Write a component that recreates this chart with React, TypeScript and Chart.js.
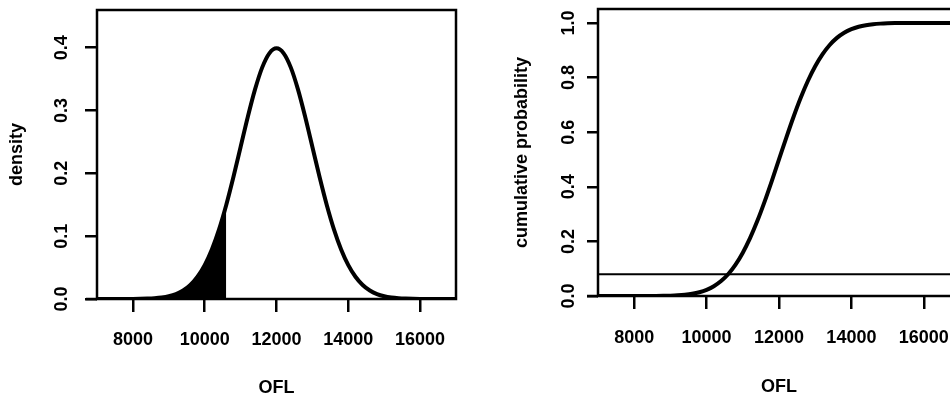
import React, { useEffect, useRef } from "react";
import { Chart, registerables } from "chart.js";

Chart.register(...registerables);

// ---- data ----
const ofl = [
  7000, 7200, 7400, 7600, 7800, 8000, 8200, 8400, 8600, 8800,
  9000, 9200, 9400, 9600, 9800, 10000, 10200, 10400, 10600, 10800,
  11000, 11200, 11400, 11600, 11800, 12000, 12200, 12400, 12600, 12800,
  13000, 13200, 13400, 13600, 13800, 14000, 14200, 14400, 14600, 14800,
  15000, 15200, 15400, 15600, 15800, 16000, 16200, 16400, 16600, 16800, 17000,
];
const density = [
  0, 0, 0.00001, 0.00002, 0.00006, 0.00013, 0.00029, 0.00061, 0.00123, 0.00238,
  0.00443, 0.00792, 0.01358, 0.02239, 0.03547, 0.05399, 0.07895, 0.11092, 0.14973, 0.19419,
  0.24197, 0.28969, 0.33322, 0.36827, 0.39104, 0.39894, 0.39104, 0.36827, 0.33322, 0.28969,
  0.24197, 0.19419, 0.14973, 0.11092, 0.07895, 0.05399, 0.03547, 0.02239, 0.01358, 0.00792,
  0.00443, 0.00238, 0.00123, 0.00061, 0.00029, 0.00013, 0.00006, 0.00002, 0.00001, 0, 0,
];
const cumulative = [
  0, 0, 0, 0.00001, 0.00001, 0.00003, 0.00007, 0.00016, 0.00034, 0.00069,
  0.00135, 0.00256, 0.00466, 0.0082, 0.0139, 0.02275, 0.03593, 0.0548, 0.08076, 0.11507,
  0.15866, 0.21186, 0.27425, 0.34458, 0.42074, 0.5, 0.57926, 0.65542, 0.72575, 0.78814,
  0.84134, 0.88493, 0.91924, 0.9452, 0.96407, 0.97725, 0.9861, 0.9918, 0.99534, 0.99744,
  0.99865, 0.99931, 0.99966, 0.99984, 0.99993, 0.99997, 1, 1, 1, 1, 1,
];
const oflTicks = [8000, 10000, 12000, 14000, 16000];
const densityTicks = [0, 0.1, 0.2, 0.3, 0.4];
const probTicks = [0, 0.2, 0.4, 0.6, 0.8, 1.0];
const cutoffOFL = 10600;
const cutoffProb = 0.08;
const oflRange = [7000, 17000];
const densityMax = 0.46;
const probMax = 1.051;

const FONT = "'Liberation Sans', Arial, Helvetica, sans-serif";
const TEXT_FONT = { family: FONT, size: 18, weight: "bold" as const };

const boxPlugin = {
  id: "rbox",
  afterDatasetsDraw(chart: any) {
    const { ctx, chartArea } = chart;
    const { left, top, right, bottom } = chartArea;
    ctx.save();
    ctx.strokeStyle = "#000";
    ctx.lineWidth = 2.5;
    ctx.strokeRect(left, top, right - left, bottom - top);
    ctx.beginPath();
    ctx.moveTo(left - 11, bottom);
    ctx.lineTo(left, bottom);
    ctx.stroke();
    ctx.restore();
  },
};

type PanelCfg = {
  yTicks: number[];
  yMax: number;
  yTitle: string;
  padTop: number;
  padRight: number;
  yWidth: number;
  xHeight: number;
  yTickLen: number;
  yTickPad: number;
  yTitlePad: number;
  xTickPad: number;
  xTitlePad: number;
};

function makeOptions(c: PanelCfg): any {
  return {
    responsive: false,
    animation: false,
    devicePixelRatio: 1,
    layout: { padding: { top: c.padTop, right: c.padRight, left: 0, bottom: 0 } },
    plugins: { legend: { display: false }, tooltip: { enabled: false } },
    elements: { point: { radius: 0 } },
    scales: {
      x: {
        type: "linear",
        min: oflRange[0],
        max: oflRange[1],
        afterBuildTicks: (s: any) => {
          s.ticks = oflTicks.map((value) => ({ value }));
        },
        afterFit: (s: any) => {
          s.height = c.xHeight;
          s.paddingLeft = 0;
          s.paddingRight = 0;
        },
        border: { display: false },
        grid: {
          drawOnChartArea: false,
          drawTicks: true,
          tickLength: 13,
          color: "#000",
          lineWidth: 2.5,
        },
        ticks: {
          color: "#000",
          font: TEXT_FONT,
          padding: c.xTickPad,
          maxRotation: 0,
          minRotation: 0,
          autoSkip: false,
          callback: (v: any) => String(v),
        },
        title: {
          display: true,
          text: "OFL",
          color: "#000",
          font: TEXT_FONT,
          padding: { top: 0, bottom: c.xTitlePad },
        },
      },
      y: {
        type: "linear",
        min: 0,
        max: c.yMax,
        afterBuildTicks: (s: any) => {
          s.ticks = c.yTicks.map((value) => ({ value }));
        },
        afterFit: (s: any) => {
          s.width = c.yWidth;
          s.paddingTop = 0;
          s.paddingBottom = 0;
        },
        border: { display: false },
        grid: {
          drawOnChartArea: false,
          drawTicks: true,
          tickLength: c.yTickLen,
          color: "#000",
          lineWidth: 2.5,
        },
        ticks: {
          color: "#000",
          font: TEXT_FONT,
          padding: c.yTickPad,
          minRotation: 90,
          maxRotation: 90,
          crossAlign: "center",
          autoSkip: false,
          callback: (v: any) => Number(v).toFixed(1),
        },
        title: {
          display: true,
          text: c.yTitle,
          color: "#000",
          font: TEXT_FONT,
          padding: { top: c.yTitlePad, bottom: 0 },
        },
      },
    },
  };
}

export default function App() {
  const leftRef = useRef<HTMLCanvasElement | null>(null);
  const rightRef = useRef<HTMLCanvasElement | null>(null);

  useEffect(() => {
    const densityPts = ofl.map((x, i) => ({ x, y: density[i] }));
    const shadePts = densityPts.filter((p) => p.x <= cutoffOFL);
    const cumPts = ofl.map((x, i) => ({ x, y: cumulative[i] }));

    const left = new Chart(leftRef.current!, {
      type: "line",
      data: {
        datasets: [
          {
            data: shadePts,
            borderWidth: 0,
            borderColor: "rgba(0,0,0,0)",
            backgroundColor: "#000",
            fill: "origin",
            cubicInterpolationMode: "monotone",
            pointRadius: 0,
            order: 2,
          },
          {
            data: densityPts,
            borderWidth: 4,
            borderColor: "#000",
            fill: false,
            cubicInterpolationMode: "monotone",
            pointRadius: 0,
            order: 1,
          },
        ],
      },
      options: makeOptions({
        yTicks: densityTicks,
        yMax: densityMax,
        yTitle: "density",
        padTop: 10,
        padRight: 19,
        yWidth: 97,
        xHeight: 101,
        yTickLen: 12,
        yTickPad: 10,
        yTitlePad: 6,
        xTickPad: 17,
        xTitlePad: 1,
      }),
      plugins: [boxPlugin],
    });

    const right = new Chart(rightRef.current!, {
      type: "line",
      data: {
        datasets: [
          {
            data: [
              { x: oflRange[0], y: cutoffProb },
              { x: oflRange[1], y: cutoffProb },
            ],
            borderWidth: 2,
            borderColor: "#000",
            fill: false,
            pointRadius: 0,
            order: 2,
          },
          {
            data: cumPts,
            borderWidth: 4,
            borderColor: "#000",
            fill: false,
            cubicInterpolationMode: "monotone",
            pointRadius: 0,
            order: 1,
          },
        ],
      },
      options: makeOptions({
        yTicks: probTicks,
        yMax: probMax,
        yTitle: "cumulative probability",
        padTop: 9,
        padRight: 40,
        yWidth: 123,
        xHeight: 104,
        yTickLen: 11,
        yTickPad: 5,
        yTitlePad: 36,
        xTickPad: 18,
        xTitlePad: 2,
      }),
      plugins: [boxPlugin],
    });

    return () => {
      left.destroy();
      right.destroy();
    };
  }, []);

  return (
    <div
      style={{
        position: "fixed",
        left: 0,
        top: 0,
        width: 950,
        height: 400,
        overflow: "hidden",
        background: "#fff",
      }}
    >
      <canvas
        ref={leftRef}
        width={475}
        height={400}
        style={{ position: "absolute", left: 0, top: 0, width: 475, height: 400 }}
      />
      <canvas
        ref={rightRef}
        width={525}
        height={400}
        style={{ position: "absolute", left: 475, top: 0, width: 525, height: 400 }}
      />
    </div>
  );
}
